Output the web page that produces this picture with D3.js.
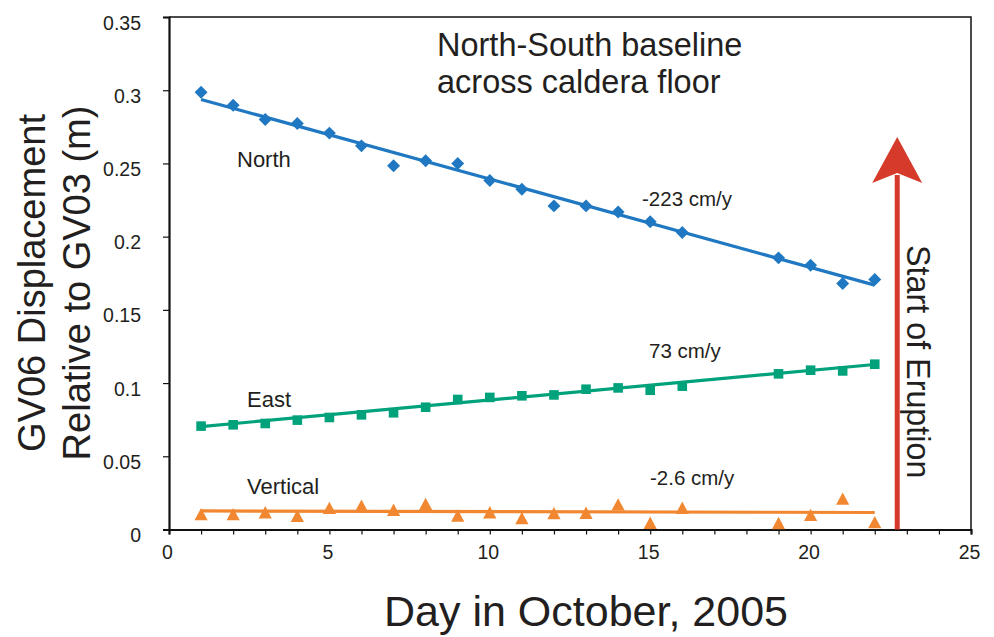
<!DOCTYPE html>
<html>
<head>
<meta charset="utf-8">
<script src="https://cdn.jsdelivr.net/npm/d3@7"></script>
<style>
  body { margin: 0; background: #fff; }
  svg { display: block; }
  text { font-family: "Liberation Sans", Arial, Helvetica, sans-serif; fill: #231f20; }
</style>
</head>
<body>
<svg id="chart" width="994" height="637"></svg>
<script>
// -- data -- //
const days = [1, 2, 3, 4, 5, 6, 7, 8, 9, 10, 11, 12, 13, 14, 15, 16, 19, 20, 21, 22];
const north = [0.2986, 0.2898, 0.2800, 0.2773, 0.2707, 0.2620, 0.2484, 0.2518, 0.2500, 0.2384,
               0.2324, 0.2210, 0.2210, 0.2169, 0.2101, 0.2029, 0.1855, 0.1805, 0.1680, 0.1708];
const east = [0.0706, 0.0715, 0.0724, 0.0747, 0.0765, 0.0783, 0.0797, 0.0835, 0.0888, 0.0902,
              0.0913, 0.0919, 0.0958, 0.0967, 0.0951, 0.0979, 0.1063, 0.1088, 0.1083, 0.1129];
const vertical = [0.0104, 0.0104, 0.0117, 0.0093, 0.0147, 0.0162, 0.0134, 0.0174, 0.0095, 0.0117,
                  0.0078, 0.0111, 0.0114, 0.0171, 0.0045, 0.0148, 0.0044, 0.0099, 0.0210, 0.0050];

// trend lines (value at first and last day)
const fitDays = [1, 22];
const northFit = [0.2937, 0.1669];
const eastFit = [0.0703, 0.1127];
const verticalFit = [0.0127, 0.0116];

const seriesNames = ["North", "East", "Vertical"];
const rateLabels = ["-223 cm/y", "73 cm/y", "-2.6 cm/y"];

const yTicks = [0, 0.05, 0.1, 0.15, 0.2, 0.25, 0.3, 0.35];
const yTickLabels = ["0", "0.05", "0.1", "0.15", "0.2", "0.25", "0.3", "0.35"];
const xMajorTicks = [0, 5, 10, 15, 20, 25];
const xMinorTicks = d3.range(0, 26);

const eruptionDay = 22.7;
const arrowTop = 0.268;

// -- layout -- //
const svg = d3.select("#chart");
const plotLeft = 169, plotRight = 971, plotTop = 17, plotBottom = 529.5;

const xScale = d3.scaleLinear().domain([0, 25]).range([plotLeft, plotRight]);
const yScale = d3.scaleLinear().domain([0, 0.35]).range([plotBottom, plotTop]);

const colors = { North: "#1f78c1", East: "#00a27b", Vertical: "#f18831" };
const red = "#d53a2a";

// -- frame (top + right) -- //
svg.append("path")
    .attr("d", `M${plotLeft},${plotTop}H${plotRight}V${plotBottom}`)
    .attr("fill", "none")
    .attr("stroke", "#111")
    .attr("stroke-width", 1.5);

// -- axes -- //
const yAxis = svg.append("g")
    .attr("transform", `translate(${plotLeft},0)`)
    .call(d3.axisLeft(yScale).tickValues(yTicks).tickSize(6).tickPadding(22)
        .tickFormat((d, i) => yTickLabels[i]));
yAxis.select(".domain").attr("stroke", "#111").attr("stroke-width", 2.2);
yAxis.selectAll(".tick line").attr("stroke", "#111").attr("stroke-width", 1.2);
yAxis.selectAll(".tick text")
    .attr("font-size", 19.5)
    .attr("dy", "0.62em")
    .attr("font-family", "Liberation Sans, Arial, sans-serif")
    .attr("fill", "#231f20");

const xMinor = svg.append("g")
    .attr("transform", `translate(0,${plotBottom})`)
    .call(d3.axisBottom(xScale).tickValues(xMinorTicks).tickSize(5).tickFormat(""));
xMinor.select(".domain").attr("stroke", "#111").attr("stroke-width", 2.2);
xMinor.selectAll(".tick line").attr("stroke", "#111").attr("stroke-width", 1.2);

const xMajor = svg.append("g")
    .attr("transform", `translate(0,${plotBottom})`)
    .call(d3.axisBottom(xScale).tickValues(xMajorTicks).tickSize(0).tickPadding(16));
xMajor.select(".domain").remove();
xMajor.selectAll(".tick text")
    .attr("font-size", 19.5)
    .attr("dx", "-2")
    .attr("font-family", "Liberation Sans, Arial, sans-serif")
    .attr("fill", "#231f20");

// -- axis titles -- //
svg.append("text")
    .attr("x", 586).attr("y", 626)
    .attr("text-anchor", "middle")
    .attr("font-size", 43)
    .text("Day in October, 2005");

const yTitle = svg.append("text")
    .attr("transform", "translate(0,283) rotate(-90)")
    .attr("text-anchor", "middle")
    .attr("font-size", 38);
yTitle.append("tspan").attr("x", 0).attr("y", 45).text("GV06 Displacement");
yTitle.append("tspan").attr("x", 0).attr("y", 90).text("Relative to GV03 (m)");

// -- chart title -- //
const title = svg.append("text").attr("font-size", 32.5);
title.append("tspan").attr("x", 437).attr("y", 56).text("North-South baseline");
title.append("tspan").attr("x", 437).attr("y", 93).text("across caldera floor");

// -- trend lines -- //
const fits = [northFit, eastFit, verticalFit];
const line = d3.line().x(d => xScale(d[0])).y(d => yScale(d[1]));
seriesNames.forEach((name, i) => {
    svg.append("path")
        .datum(fitDays.map((d, j) => [d, fits[i][j]]))
        .attr("d", line)
        .attr("fill", "none")
        .attr("stroke", colors[name])
        .attr("stroke-width", 3.2);
});

// -- markers -- //
const diamond = d3.symbol().type(d3.symbolSquare).size(84)();
svg.selectAll(".north")
    .data(days.map((d, i) => [d, north[i]]))
    .enter().append("path")
    .attr("class", "north")
    .attr("d", diamond)
    .attr("transform", d => `translate(${xScale(d[0])},${yScale(d[1])}) rotate(45)`)
    .attr("fill", colors.North);

const square = d3.symbol().type(d3.symbolSquare).size(92)();
svg.selectAll(".east")
    .data(days.map((d, i) => [d, east[i]]))
    .enter().append("path")
    .attr("class", "east")
    .attr("d", square)
    .attr("transform", d => `translate(${xScale(d[0])},${yScale(d[1])})`)
    .attr("fill", colors.East);

// triangle centred on its bounding box
const triangle = "M0,-6.3L6.6,6.1L-6.6,6.1Z";
svg.selectAll(".vertical")
    .data(days.map((d, i) => [d, vertical[i]]))
    .enter().append("path")
    .attr("class", "vertical")
    .attr("d", triangle)
    .attr("transform", d => `translate(${xScale(d[0])},${yScale(d[1])})`)
    .attr("fill", colors.Vertical);

// -- series labels -- //
const nameLabelPos = [[237, 167], [247, 407], [247, 494]];
seriesNames.forEach((name, i) => {
    svg.append("text")
        .attr("x", nameLabelPos[i][0]).attr("y", nameLabelPos[i][1])
        .attr("font-family", "Noto Sans, sans-serif")
        .attr("font-size", 22)
        .text(name);
});

const rateLabelPos = [[642, 206], [649, 358], [650, 485]];
rateLabels.forEach((t, i) => {
    svg.append("text")
        .attr("x", rateLabelPos[i][0]).attr("y", rateLabelPos[i][1])
        .attr("font-size", 20.5)
        .text(t);
});

// -- eruption arrow -- //
const ax = xScale(eruptionDay);
const tipY = yScale(arrowTop);
svg.append("line")
    .attr("x1", ax).attr("x2", ax)
    .attr("y1", yScale(0)).attr("y2", tipY + 38)
    .attr("stroke", red)
    .attr("stroke-width", 5);
svg.append("path")
    .attr("d", `M${ax},${tipY} L${ax + 25},${tipY + 46} L${ax},${tipY + 36} L${ax - 25},${tipY + 46} Z`)
    .attr("fill", red);

svg.append("text")
    .attr("transform", `translate(907,245) rotate(90)`)
    .attr("font-size", 32.3)
    .text("Start of Eruption");
</script>
</body>
</html>
